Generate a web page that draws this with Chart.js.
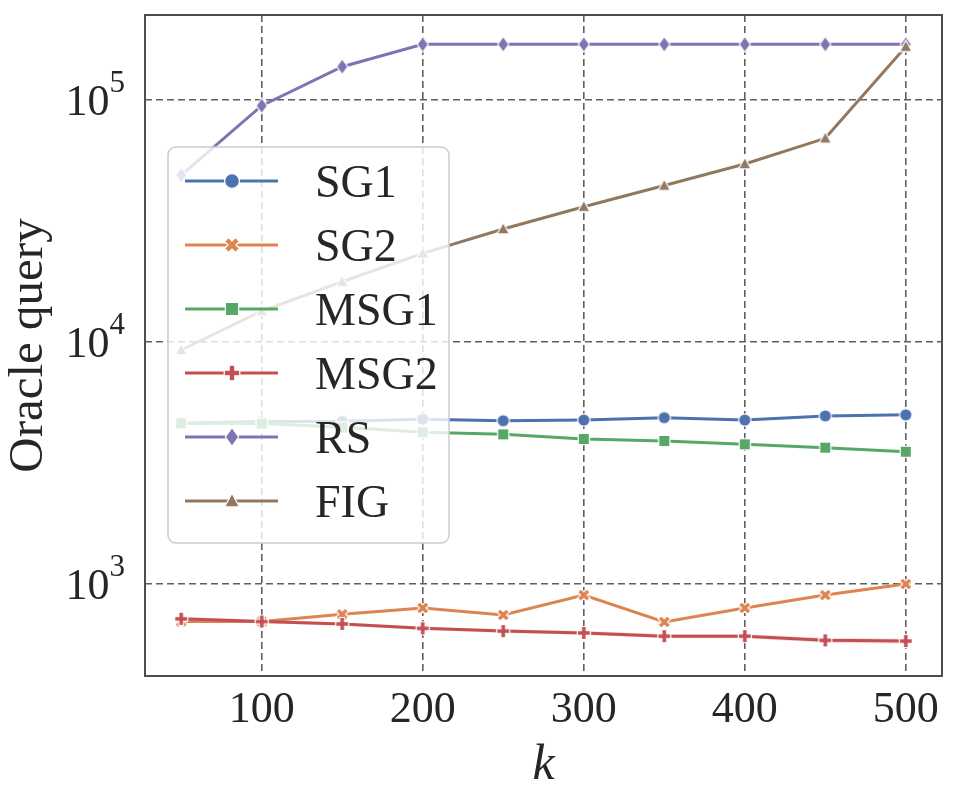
<!DOCTYPE html>
<html>
<head>
<meta charset="utf-8">
<script src="https://cdn.jsdelivr.net/npm/chart.js@4.4.1/dist/chart.umd.min.js"></script>
<style>
  html, body { margin: 0; padding: 0; background: #fff; }
  #wrap { width: 959px; height: 804px; }
</style>
</head>
<body>
<div id="wrap"><canvas id="chart"></canvas></div>
<script>
// data
const kValues = [50, 100, 150, 200, 250, 300, 350, 400, 450, 500];
const sg1  = [4620, 4690, 4700, 4800, 4730, 4760, 4870, 4760, 4950, 5000];
const sg2  = [700, 700, 750, 796, 745, 900, 697, 796, 900, 1000];
const msg1 = [4615, 4600, 4440, 4235, 4155, 3975, 3900, 3780, 3660, 3520];
const msg2 = [718, 700, 684, 656, 639, 628, 609, 609, 585, 581];
const msg2Lo = [706, 689, 674, 646, 628, 617, 597, 597, 572, 566];
const msg2Hi = [730, 711, 694, 666, 650, 639, 621, 621, 598, 596];
const rs   = [48950, 94700, 137300, 169800, 169800, 169800, 169800, 169800, 169800, 169800];
const fig  = [9270, 13430, 17750, 23250, 29300, 36200, 44300, 54400, 69450, 166000];

const seriesNames = ['SG1', 'SG2', 'MSG1', 'MSG2', 'RS', 'FIG'];
const seriesData = [sg1, sg2, msg1, msg2, rs, fig];
const seriesColors = ['#4C72B0', '#DD8452', '#55A868', '#C44E52', '#8172B3', '#937860'];
const seriesMarkers = ['circle', 'x', 'square', 'plus', 'diamond', 'triangle'];

const xTicks = [100, 200, 300, 400, 500];
const yTicks = [1000, 10000, 100000];
const yExp = ['3', '4', '5'];

const FONT = "'Liberation Serif', 'Times New Roman', serif";
const TEXT = '#262626';

function markerPath(ctx, shape, s) {
  ctx.beginPath();
  if (shape === 'circle') {
    ctx.arc(0, 0, s, 0, Math.PI * 2);
  } else if (shape === 'square') {
    const h = s * 0.9;
    ctx.rect(-h, -h, 2 * h, 2 * h);
  } else if (shape === 'diamond') {
    ctx.moveTo(0, -s * 1.25); ctx.lineTo(s * 0.9, 0); ctx.lineTo(0, s * 1.25); ctx.lineTo(-s * 0.9, 0);
  } else if (shape === 'triangle') {
    ctx.moveTo(0, -s * 1.05); ctx.lineTo(s * 1.0, s * 0.8); ctx.lineTo(-s * 1.0, s * 0.8);
  } else {
    const w = s * 0.38, L = s * 1.05;
    const pts = [[-w,-L],[w,-L],[w,-w],[L,-w],[L,w],[w,w],[w,L],[-w,L],[-w,w],[-L,w],[-L,-w],[-w,-w]];
    const a = shape === 'x' ? Math.PI / 4 : 0;
    pts.forEach((p, i) => {
      const x = p[0] * Math.cos(a) - p[1] * Math.sin(a);
      const y = p[0] * Math.sin(a) + p[1] * Math.cos(a);
      if (i === 0) ctx.moveTo(x, y); else ctx.lineTo(x, y);
    });
  }
  ctx.closePath();
}

function drawMarker(ctx, shape, color, s, x, y) {
  ctx.save();
  ctx.translate(x, y);
  markerPath(ctx, shape, s);
  ctx.fillStyle = color;
  ctx.fill();
  ctx.lineWidth = 1.2;
  ctx.strokeStyle = '#ffffff';
  ctx.stroke();
  ctx.restore();
}

function makeMarker(shape, color, s) {
  const c = document.createElement('canvas');
  const size = Math.ceil(s * 2.8) + 4;
  c.width = size; c.height = size;
  drawMarker(c.getContext('2d'), shape, color, s, size / 2, size / 2);
  return c;
}

const datasets = [];
seriesNames.forEach((name, i) => {
  if (name === 'MSG2') {
    datasets.push({
      label: 'msg2lo', data: kValues.map((k, j) => ({x: k, y: msg2Lo[j]})),
      borderWidth: 0, pointRadius: 0, fill: false, order: 10
    });
    datasets.push({
      label: 'msg2hi', data: kValues.map((k, j) => ({x: k, y: msg2Hi[j]})),
      borderWidth: 0, pointRadius: 0, fill: '-1', backgroundColor: 'rgba(196,78,82,0.2)', order: 10
    });
  }
  datasets.push({
    label: name,
    data: kValues.map((k, j) => ({x: k, y: seriesData[i][j]})),
    borderColor: seriesColors[i],
    backgroundColor: seriesColors[i],
    borderWidth: 3,
    pointStyle: makeMarker(seriesMarkers[i], seriesColors[i], 6.2),
    pointRadius: 6,
    tension: 0,
    fill: false,
    order: 6 - i
  });
});

const framePlugin = {
  id: 'frame',
  afterDraw(chart) {
    const ctx = chart.ctx, a = chart.chartArea;
    ctx.save();
    ctx.strokeStyle = '#4d4d4d';
    ctx.lineWidth = 2;
    ctx.strokeRect(a.left, a.top, a.right - a.left, a.bottom - a.top);

    // y tick labels as 10 with raised exponent
    const ys = chart.scales.y;
    ctx.fillStyle = TEXT;
    ctx.textBaseline = 'alphabetic';
    ctx.textAlign = 'left';
    yTicks.forEach((v, i) => {
      const y = ys.getPixelForValue(v);
      ctx.font = '31px ' + FONT;
      const we = ctx.measureText(yExp[i]).width;
      ctx.font = '44px ' + FONT;
      const wb = ctx.measureText('10').width;
      const right = 125;
      ctx.fillText('10', right - we - wb, y + 15);
      ctx.font = '31px ' + FONT;
      ctx.fillText(yExp[i], right - we, y - 8);
    });

    // legend
    const lx = 168, ly = 147, lw = 281, lh = 396;
    ctx.beginPath();
    ctx.roundRect(lx, ly, lw, lh, 8);
    ctx.fillStyle = 'rgba(255,255,255,0.8)';
    ctx.fill();
    ctx.strokeStyle = '#cccccc';
    ctx.lineWidth = 1.5;
    ctx.stroke();
    seriesNames.forEach((name, i) => {
      const cy = 181 + i * 64;
      ctx.beginPath();
      ctx.moveTo(185, cy); ctx.lineTo(278, cy);
      ctx.strokeStyle = seriesColors[i];
      ctx.lineWidth = 3;
      ctx.stroke();
      drawMarker(ctx, seriesMarkers[i], seriesColors[i], 7.4, 232, cy);
      ctx.fillStyle = TEXT;
      ctx.font = '46px ' + FONT;
      ctx.textBaseline = 'alphabetic';
      ctx.fillText(name, 315, cy + 16);
    });
    ctx.restore();
  }
};

new Chart(document.getElementById('chart'), {
  type: 'line',
  data: { datasets: datasets },
  options: {
    responsive: true,
    maintainAspectRatio: false,
    animation: false,
    layout: { padding: { left: 0, right: 17, top: 15, bottom: 0 } },
    plugins: { legend: { display: false }, tooltip: { enabled: false } },
    scales: {
      x: {
        type: 'linear',
        min: 27.5,
        max: 522.5,
        afterBuildTicks: s => { s.ticks = xTicks.map(v => ({value: v})); },
        afterFit: s => { s.height = 128; },
        grid: { color: '#5f5f5f', lineWidth: 1.6, drawTicks: false },
        border: { display: false, dash: [7, 4] },
        ticks: { color: TEXT, font: { family: FONT, size: 44 }, padding: 8, maxRotation: 0 },
        title: { display: true, text: 'k', color: TEXT, font: { family: FONT, size: 50, style: 'italic' }, padding: { top: 0, bottom: 8 } }
      },
      y: {
        type: 'logarithmic',
        min: 416.8,
        max: 224500,
        afterBuildTicks: s => { s.ticks = yTicks.map(v => ({value: v})); },
        afterFit: s => { s.width = 145; },
        grid: { color: '#5f5f5f', lineWidth: 1.6, drawTicks: false },
        border: { display: false, dash: [7, 4] },
        ticks: { display: false },
        title: { display: true, text: 'Oracle query', color: TEXT, font: { family: FONT, size: 49 }, padding: { top: 0, bottom: 0 } }
      }
    }
  },
  plugins: [framePlugin]
});
</script>
</body>
</html>
